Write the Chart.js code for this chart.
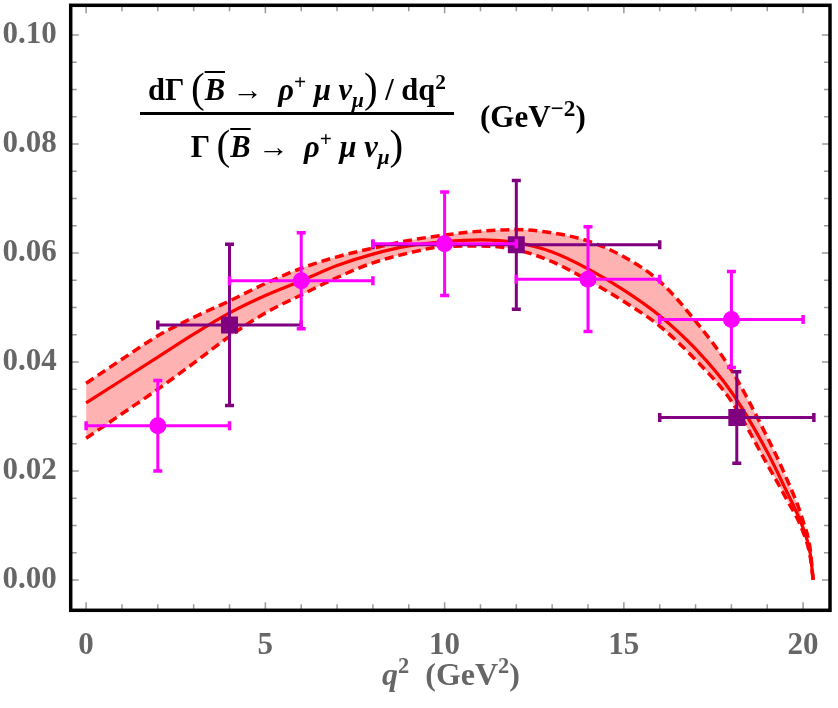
<!DOCTYPE html>
<html>
<head>
<meta charset="utf-8">
<script src="https://cdn.jsdelivr.net/npm/chart.js@4.4.1/dist/chart.umd.min.js"></script>
<style>
  body { margin: 0; background: #fff; }
  #wrap { position: relative; width: 838px; height: 708px; }
  canvas { position: absolute; left: 0; top: 0; }
  .lbl { position: absolute; font-family: 'Liberation Serif', 'Times New Roman', serif; font-weight: bold; white-space: nowrap; }
  .lbl sup, .lbl sub { font-size: 0.7em; line-height: 0; }
  .pl { font-size: 1.35em; font-weight: normal; line-height: 0; vertical-align: -0.06em; }
  .ob { font-style: italic; text-decoration: overline; text-decoration-thickness: 2px; }
  #formula { left: 140px; top: 71.7px; width: 314px; text-align: center; font-size: 30.5px; color: #000; }
  #formula .row { line-height: 36px; height: 36px; }
  #formula .bar { height: 3px; background: #000; margin: 4.8px 0 13.2px 0; }
  #unit { left: 480px; top: 98.5px; font-size: 31px; line-height: 36px; color: #000; }
  #unit sup { font-size: 0.75em; }
  #xtitle { left: 70px; width: 762px; top: 654px; text-align: center; font-size: 32px; line-height: 40px; color: #666; }
</style>
</head>
<body>
<div id="wrap">
  <canvas id="chart" width="838" height="708"></canvas>
  <div id="formula" class="lbl">
    <div class="row">dΓ <span class="pl">(</span><span class="ob">B</span> → &nbsp;<i>ρ</i><sup>+</sup> <i>μ</i> <i>ν</i><sub><i>μ</i></sub><span class="pl">)</span> / dq<sup>2</sup></div>
    <div class="bar"></div>
    <div class="row">Γ <span class="pl">(</span><span class="ob">B</span> → &nbsp;<i>ρ</i><sup>+</sup> <i>μ</i> <i>ν</i><sub><i>μ</i></sub><span class="pl">)</span></div>
  </div>
  <div id="unit" class="lbl">(GeV<sup>−2</sup>)</div>
  <div id="xtitle" class="lbl"><i>q</i><sup>2</sup>&nbsp;&nbsp;(GeV<sup>2</sup>)</div>
</div>
<script>
// axis ranges and ticks
const xMin = -0.43, xMax = 20.75;
const yMin = -0.00556, yMax = 0.10545;
const xTicks = [0, 5, 10, 15, 20];
const yTicks = [0, 0.02, 0.04, 0.06, 0.08, 0.10];
const xMinorStep = 1, yMinorStep = 0.005;

// theory curve: central value and band
const qCurve = [0, 1, 2, 3, 4, 5, 6, 7, 8, 9, 10, 11, 12, 13, 14, 15, 16, 17, 18, 19, 19.5, 20, 20.2, 20.28];
const central = [0.0325, 0.0367, 0.0409, 0.0451, 0.0490, 0.0522, 0.0549, 0.0577, 0.0598, 0.0613, 0.0621, 0.0624, 0.0619, 0.0602, 0.0571, 0.0532, 0.0485, 0.0424, 0.0345, 0.0235, 0.0168, 0.0095, 0.0048, 0];
const upper = [0.0361, 0.0405, 0.0448, 0.0482, 0.0512, 0.0544, 0.0572, 0.0593, 0.0609, 0.0623, 0.0633, 0.0640, 0.0643, 0.0637, 0.0622, 0.0593, 0.0548, 0.0475, 0.0385, 0.0262, 0.0192, 0.0108, 0.0055, 0];
const lower = [0.0260, 0.0305, 0.0350, 0.0398, 0.0447, 0.0490, 0.0523, 0.0555, 0.0582, 0.0600, 0.0612, 0.0613, 0.0606, 0.0584, 0.0550, 0.0511, 0.0466, 0.0404, 0.0328, 0.0212, 0.0153, 0.0088, 0.0042, 0];

// magenta data (circles)
const magQ = [2, 6, 10, 14, 18];
const magQErr = [2, 2, 2, 2, 2];
const magY = [0.0283, 0.0549, 0.0617, 0.0552, 0.0478];
const magYErr = [0.0083, 0.0088, 0.0095, 0.0096, 0.0088];

// purple data (squares)
const purQ = [4, 12, 18.15];
const purQErr = [2, 4, 2.15];
const purY = [0.0468, 0.0615, 0.0298];
const purYErr = [0.0148, 0.0118, 0.0084];

const pts = (xs, ys) => xs.map((v, i) => ({ x: v, y: ys[i] }));
const tickFont = { family: 'Liberation Serif', weight: 'bold', size: 31 };

const errorBars = {
    id: 'errorBars',
    beforeDatasetDraw(chart, args) {
        const ds = chart.data.datasets[args.index];
        if (!ds.xErr) return;
        const { ctx, scales: { x, y } } = chart;
        ctx.save();
        ctx.strokeStyle = ds.backgroundColor;
        ds.data.forEach((p, i) => {
            const px = x.getPixelForValue(p.x), py = y.getPixelForValue(p.y);
            const x0 = x.getPixelForValue(p.x - ds.xErr[i]), x1 = x.getPixelForValue(p.x + ds.xErr[i]);
            const y0 = y.getPixelForValue(p.y - ds.yErr[i]), y1 = y.getPixelForValue(p.y + ds.yErr[i]);
            ctx.lineWidth = 3;
            ctx.beginPath();
            ctx.moveTo(x0, py); ctx.lineTo(x1, py);
            ctx.moveTo(px, y0); ctx.lineTo(px, y1);
            ctx.stroke();
            const c = 4.5;
            ctx.lineWidth = 3.5;
            ctx.beginPath();
            ctx.moveTo(x0, py - c); ctx.lineTo(x0, py + c);
            ctx.moveTo(x1, py - c); ctx.lineTo(x1, py + c);
            ctx.moveTo(px - c, y0); ctx.lineTo(px + c, y0);
            ctx.moveTo(px - c, y1); ctx.lineTo(px + c, y1);
            ctx.stroke();
        });
        ctx.restore();
    }
};

const frame = {
    id: 'frame',
    afterDraw(chart) {
        const { ctx, chartArea: a, scales: { x, y } } = chart;
        ctx.save();
        ctx.strokeStyle = '#999';
        ctx.lineWidth = 1.5;
        ctx.beginPath();
        for (let v = 0; v <= xTicks[xTicks.length - 1] + 1e-9; v += xMinorStep) {
            const px = x.getPixelForValue(v);
            const len = xTicks.includes(v) ? 8 : 6;
            ctx.moveTo(px, a.bottom); ctx.lineTo(px, a.bottom - len);
            ctx.moveTo(px, a.top); ctx.lineTo(px, a.top + len);
        }
        for (let k = 0; k <= 20; k++) {
            const v = k * yMinorStep;
            const py = y.getPixelForValue(v);
            const len = k % 4 === 0 ? 8 : 6;
            ctx.moveTo(a.left, py); ctx.lineTo(a.left + len, py);
            ctx.moveTo(a.right, py); ctx.lineTo(a.right - len, py);
        }
        ctx.stroke();
        ctx.strokeStyle = '#000';
        ctx.lineWidth = 3.5;
        ctx.strokeRect(a.left, a.top, a.right - a.left, a.bottom - a.top);
        ctx.restore();
    }
};

new Chart(document.getElementById('chart'), {
    type: 'scatter',
    data: {
        datasets: [
            {
                data: pts(qCurve, upper), showLine: true, pointRadius: 0,
                borderColor: '#ff0000', borderWidth: 3.5, borderDash: [9, 5],
                backgroundColor: 'rgba(255,0,0,0.3)', fill: '+1',
                cubicInterpolationMode: 'monotone', order: 4
            },
            {
                data: pts(qCurve, lower), showLine: true, pointRadius: 0,
                borderColor: '#ff0000', borderWidth: 3.5, borderDash: [9, 5],
                fill: false, cubicInterpolationMode: 'monotone', order: 3
            },
            {
                data: pts(qCurve, central), showLine: true, pointRadius: 0,
                borderColor: '#ff0000', borderWidth: 3.2,
                fill: false, cubicInterpolationMode: 'monotone', order: 2
            },
            {
                data: pts(purQ, purY), xErr: purQErr, yErr: purYErr,
                pointStyle: 'rect', pointRadius: 12, borderWidth: 0,
                backgroundColor: '#800080', borderColor: '#800080', order: 1
            },
            {
                data: pts(magQ, magY), xErr: magQErr, yErr: magYErr,
                pointStyle: 'circle', pointRadius: 8.5, borderWidth: 0,
                backgroundColor: '#ff00ff', borderColor: '#ff00ff', order: 0
            }
        ]
    },
    options: {
        responsive: false,
        animation: false,
        layout: { padding: { top: 5.3, right: 8, left: 0, bottom: 0 }, autoPadding: false },
        plugins: { legend: { display: false }, tooltip: { enabled: false } },
        scales: {
            x: {
                type: 'linear', min: xMin, max: xMax,
                afterBuildTicks: s => { s.ticks = xTicks.map(v => ({ value: v })); },
                afterFit: s => { s.height = 97.7; s.paddingLeft = 0; s.paddingRight = 0; },
                grid: { display: false }, border: { display: false },
                ticks: { font: tickFont, color: '#666', padding: 9, maxRotation: 0, callback: v => String(v) }
            },
            y: {
                type: 'linear', min: yMin, max: yMax,
                afterBuildTicks: s => { s.ticks = yTicks.map(v => ({ value: v })); },
                afterFit: s => { s.width = 70.7; s.paddingTop = 0; s.paddingBottom = 0; },
                grid: { display: false }, border: { display: false },
                ticks: { font: tickFont, color: '#666', padding: 6, callback: v => v.toFixed(2) }
            }
        }
    },
    plugins: [errorBars, frame]
});
</script>
</body>
</html>
